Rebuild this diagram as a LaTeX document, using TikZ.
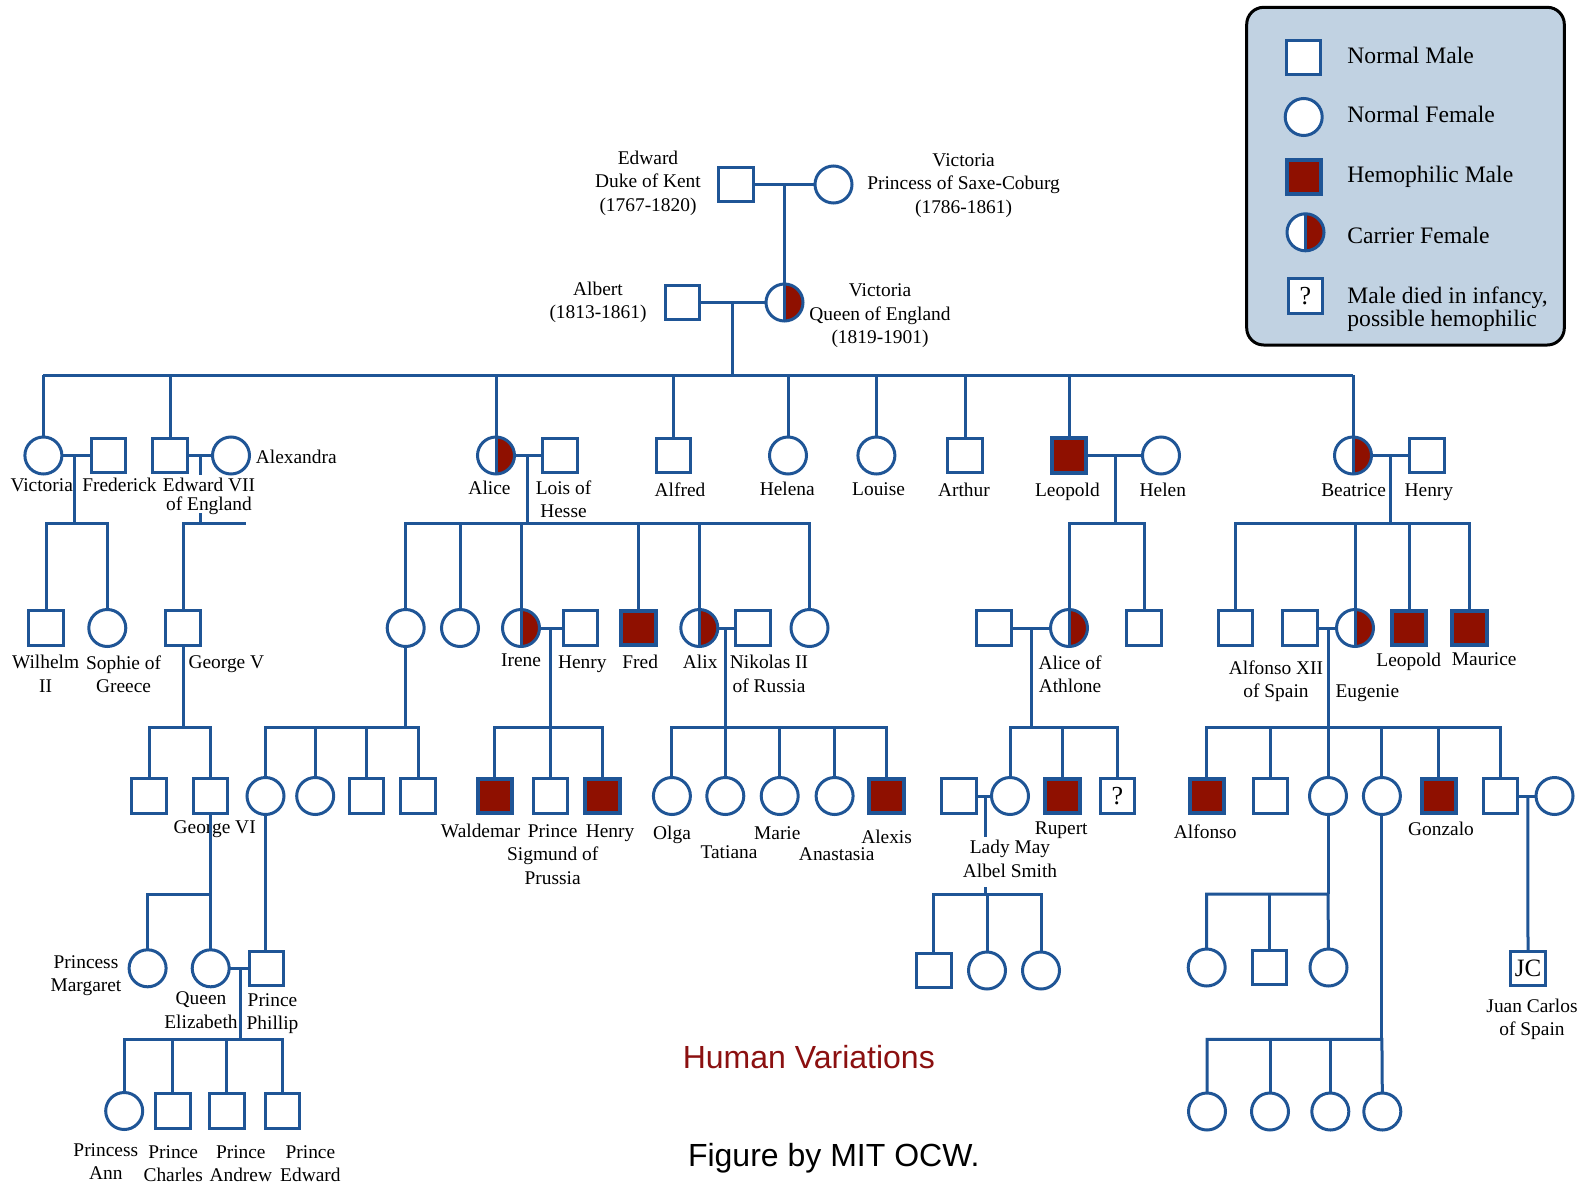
\documentclass[tikz,border=0pt]{standalone}
\usepackage{fontspec}
\setmainfont{Liberation Serif}
\newfontfamily\titlesans{Liberation Sans}
\definecolor{pblue}{HTML}{1F5596}
\definecolor{hemored}{HTML}{8F1000}
\definecolor{legbg}{HTML}{C1D2E2}
\definecolor{titlered}{HTML}{8B1010}
\begin{document}
\begin{tikzpicture}[x=0.5pt,y=-0.5pt,
  ln/.style={draw=pblue,line width=1.5pt},
  person/.style={draw=pblue,line width=1.5pt,inner sep=0pt,outer sep=0pt},
  male/.style={person,rectangle,minimum size=17.2pt,fill=white},
  female/.style={person,circle,minimum size=18.5pt,fill=white},
  hemo/.style={male,fill=hemored,line width=2pt},
  carrier/.style={female,path picture={
      \fill[hemored] (path picture bounding box.north) rectangle (path picture bounding box.south east);
      \draw[pblue,line width=1.5pt] (path picture bounding box.north) -- (path picture bounding box.south);}},
  lab/.style={anchor=north,align=center,inner sep=0pt,font=\fontsize{9.7}{11.7}\selectfont},
  leg/.style={anchor=north west,align=left,inner sep=0pt,font=\fontsize{11.8}{9.8}\selectfont},
  qsym/.style={font=\fontsize{13}{14}\selectfont},
  jcsym/.style={font=\fontsize{12.5}{14}\selectfont}
]
\useasboundingbox (0,0) rectangle (1585,1183);

% ---------- legend ----------
\draw[black,line width=1.5pt,fill=legbg,rounded corners=8.5pt] (1246.7,7.3) rectangle (1564.3,345);
\node[male] (kmale) at (1303.5,57.5) {};
\node[female] (kfem) at (1303.7,117) {};
\node[hemo] (khem) at (1304,176.7) {};
\node[carrier] (kcar) at (1305.5,232.3) {};
\node[male,qsym] (kq) at (1305.5,296) {?};
\node[leg] (tmale) at (1347,46.5) {Normal Male};
\node[leg] (tfem) at (1347,106) {Normal Female};
\node[leg] (themo) at (1347,166) {Hemophilic Male};
\node[leg] (tcar) at (1347,226.5) {Carrier Female};
\node[leg] (tq) at (1347,286.5) {Male died in infancy,\\possible hemophilic};

% ---------- generation 0 ----------
\node[male] (edw) at (736,184.5) {};
\node[female] (vsc) at (833.5,184.5) {};
\node[carrier] (vq) at (784.5,302.5) {};
\node[male] (alb) at (682.5,302.5) {};
\node[lab] (ledw) at (648,150.5) {Edward\\Duke of Kent\\(1767-1820)};
\node[lab] (lvsc) at (963.6,153) {Victoria\\Princess of Saxe-Coburg\\(1786-1861)};
\node[lab] (lalb) at (598,281.5) {Albert\\(1813-1861)};
\node[lab] (lvq) at (880,283.5) {Victoria\\Queen of England\\(1819-1901)};

\coordinate (m0) at (784.5,184.5);
\coordinate (j1) at (732,302.5);
\coordinate (sib1) at (732,375);
\draw[ln] (edw.east) -- (vsc.west);
\draw[ln] (m0) -- (vq.north);
\draw[ln] (alb.east) -- (vq.west);
\draw[ln] (j1) -- (sib1);

% ---------- generation 1 ----------
\node[female] (v1) at (43.4,455.5) {};
\node[male] (fred) at (108.7,455.5) {};
\node[male] (e7) at (170,455.5) {};
\node[female] (alex) at (231,455.5) {};
\node[carrier] (alice) at (496,455.5) {};
\node[male] (lois) at (560,455.5) {};
\node[male] (alfred) at (673.4,455.5) {};
\node[female] (helena) at (788,455.5) {};
\node[female] (louise) at (876.4,455.5) {};
\node[male] (arthur) at (965,455.5) {};
\node[hemo] (leo) at (1069,455.5) {};
\node[female] (helen) at (1161,455.5) {};
\node[carrier] (bea) at (1353,455.5) {};
\node[male] (henry) at (1427,455.5) {};

\draw[ln] (v1.north |- sib1) -- (bea.north |- sib1);
\foreach \c in {v1,e7,alice,alfred,helena,louise,arthur,leo,bea}
  \draw[ln] (\c.north) -- (\c.north |- sib1);

\node[lab] (lv1) at (41.7,478) {Victoria};
\node[lab] (lfred) at (119.5,478) {Frederick};
\node[lab] (le7) at (209,478) {Edward VII\\[-2.2pt]of England};
\node[lab] (lalex) at (296.3,450) {Alexandra};
\node[lab] (lalice) at (489.5,480.5) {Alice};
\node[lab] (llois) at (563.5,480) {Lois of\\Hesse};
\node[lab] (lalfred) at (680,482) {Alfred};
\node[lab] (lhelena) at (787.3,482) {Helena};
\node[lab] (llouise) at (878.6,482) {Louise};
\node[lab] (larthur) at (963.9,482.5) {Arthur};
\node[lab] (lleo) at (1067.4,483) {Leopold};
\node[lab] (lhelen) at (1162.8,483) {Helen};
\node[lab] (lbea) at (1353.6,483) {Beatrice};
\node[lab] (lhenry) at (1428.9,483) {Henry};

% marriages of generation 1
\coordinate (jvf) at (74.7,455.5);  \coordinate (cvf) at (74.7,523);
\coordinate (jea) at (200.4,455.5); \coordinate (cea) at (200.4,523);
\coordinate (jeaa) at (200.4,475);  \coordinate (jeab) at (200.4,513);
\coordinate (eastub) at (245.5,523);
\coordinate (jal) at (527,455.5);   \coordinate (cal) at (527,523);
\coordinate (jlh) at (1115.5,455.5); \coordinate (clh) at (1115.5,523);
\coordinate (jbh) at (1390,455.5);  \coordinate (cbh) at (1390,523);
\draw[ln] (v1.east) -- (fred.west);
\draw[ln] (e7.east) -- (alex.west);
\draw[ln] (alice.east) -- (lois.west);
\draw[ln] (leo.east) -- (helen.west);
\draw[ln] (bea.east) -- (henry.west);
\draw[ln] (jvf) -- (cvf);
\draw[ln] (jea) -- (jeaa);
\draw[ln] (jeab) -- (cea);
\draw[ln] (jal) -- (cal);
\draw[ln] (jlh) -- (clh);
\draw[ln] (jbh) -- (cbh);

% ---------- generation 2 ----------
\node[male] (wil) at (46,628) {};
\node[female] (soph) at (107.3,628) {};
\node[male] (geo5) at (183,628) {};
\node[female] (a1) at (405.7,628) {};
\node[female] (a2) at (460,628) {};
\node[carrier] (irene) at (521,628) {};
\node[male] (henryb) at (580.6,628) {};
\node[hemo] (fredh) at (638.4,628) {};
\node[carrier] (alix) at (699.3,628) {};
\node[male] (nik) at (753,628) {};
\node[female] (a7) at (809.5,628) {};
\node[male] (athm) at (993.8,628) {};
\node[carrier] (aath) at (1069,628) {};
\node[male] (lsq) at (1144,628) {};
\node[male] (bsq) at (1235.3,628) {};
\node[male] (alf12) at (1300,628) {};
\node[carrier] (eug) at (1355,628) {};
\node[hemo] (leob) at (1409,628) {};
\node[hemo] (maur) at (1469.6,628) {};

\draw[ln] (wil.north) |- (cvf) -| (soph.north);
\draw[ln] (geo5.north) |- (cea) -- (eastub);
\draw[ln] (a1.north) |- (cal) -| (a7.north);
\foreach \c in {a2,irene,fredh,alix} \draw[ln] (\c.north) -- (\c.north |- cal);
\draw[ln] (aath.north) |- (clh) -| (lsq.north);
\draw[ln] (bsq.north) |- (cbh) -| (maur.north);
\foreach \c in {eug,leob} \draw[ln] (\c.north) -- (\c.north |- cbh);

\node[lab] (lwil) at (45.6,655) {Wilhelm\\II};
\node[lab] (lsoph) at (123.6,655) {Sophie of\\Greece};
\node[lab] (lgeo5) at (226.4,655) {George V};
\node[lab] (lirene) at (521,653.3) {Irene};
\node[lab] (lhenryb) at (582.3,655) {Henry};
\node[lab] (lfredh) at (640.2,655) {Fred};
\node[lab] (lalix) at (700.2,655) {Alix};
\node[lab] (lnik) at (769,655) {Nikolas II\\of Russia};
\node[lab] (laath) at (1070,655) {Alice of\\Athlone};
\node[lab] (lalf12) at (1276,660) {Alfonso XII\\of Spain};
\node[lab] (leug) at (1367.4,684) {Eugenie};
\node[lab] (lleob) at (1408.8,652.7) {Leopold};
\node[lab] (lmaur) at (1484.2,652.7) {Maurice};

% marriages and descents of generation 2
\coordinate (jih) at (550.5,628);  \coordinate (cih) at (550.5,727);
\coordinate (jan) at (725.1,628);  \coordinate (can) at (725.1,727);
\coordinate (jaa) at (1031,628);   \coordinate (caa) at (1031,727);
\coordinate (jae) at (1328,628);   \coordinate (cae) at (1328,727);
\coordinate (cg5) at (183,727);
\coordinate (ca1) at (405.7,727);
\draw[ln] (irene.east) -- (henryb.west);
\draw[ln] (alix.east) -- (nik.west);
\draw[ln] (athm.east) -- (aath.west);
\draw[ln] (alf12.east) -- (eug.west);
\draw[ln] (jih) -- (cih);
\draw[ln] (jan) -- (can);
\draw[ln] (jaa) -- (caa);
\draw[ln] (jae) -- (cae);
\draw[ln] (geo5.south) -- (cg5);
\draw[ln] (a1.south) -- (ca1);

% ---------- generation 3 ----------
\node[male] (g3a) at (149,796) {};
\node[male] (geo6) at (210.7,796) {};
\node[female] (aob) at (265.5,796) {};
\node[female] (g3c) at (315.2,796) {};
\node[male] (g3d) at (366.4,796) {};
\node[male] (g3e) at (418,796) {};
\node[hemo] (wald) at (494.7,796) {};
\node[male] (sig) at (550.5,796) {};
\node[hemo] (henh) at (602.5,796) {};
\node[female] (olga) at (671.9,796) {};
\node[female] (tat) at (725.3,796) {};
\node[female] (marie) at (779.7,796) {};
\node[female] (anas) at (834.6,796) {};
\node[hemo] (alexis) at (886.6,796) {};
\node[male] (lmm) at (958.8,796) {};
\node[female] (lmay) at (1010,796) {};
\node[hemo] (rup) at (1062.3,796) {};
\node[male,qsym] (qm) at (1117.3,796) {?};
\node[hemo] (alfo) at (1206.9,796) {};
\node[male] (s2) at (1270.5,796) {};
\node[female] (s3) at (1328,796) {};
\node[female] (s4) at (1381.9,796) {};
\node[hemo] (gonz) at (1438.9,796) {};
\node[male] (s6) at (1500.7,796) {};
\node[female] (s7) at (1554.5,796) {};

\draw[ln] (g3a.north) |- (cg5) -| (geo6.north);
\draw[ln] (aob.north) |- (ca1) -| (g3e.north);
\foreach \c in {g3c,g3d} \draw[ln] (\c.north) -- (\c.north |- ca1);
\draw[ln] (wald.north) |- (cih) -| (henh.north);
\draw[ln] (sig.north) -- (sig.north |- cih);
\draw[ln] (olga.north) |- (can) -| (alexis.north);
\foreach \c in {tat,marie,anas} \draw[ln] (\c.north) -- (\c.north |- can);
\draw[ln] (lmay.north) |- (caa) -| (qm.north);
\draw[ln] (rup.north) -- (rup.north |- caa);
\draw[ln] (alfo.north) |- (cae) -| (s6.north);
\foreach \c in {s2,s3,s4,gonz} \draw[ln] (\c.north) -- (\c.north |- cae);

\node[lab] (lgeo6) at (214.7,820) {George VI};
\node[lab] (lwald) at (480.6,824) {Waldemar};
\node[lab] (lsig) at (552.7,824) {Prince\\Sigmund of\\Prussia};
\node[lab] (lhenh) at (610,824) {Henry};
\node[lab] (lolga) at (672,826) {Olga};
\node[lab] (ltat) at (729,845.7) {Tatiana};
\node[lab] (lmarie) at (777.3,826) {Marie};
\node[lab] (lanas) at (836.7,847.3) {Anastasia};
\node[lab] (lalexis) at (886.6,829.3) {Alexis};
\node[lab] (llmay) at (1010,840) {Lady May\\Albel Smith};
\node[lab] (lrup) at (1061.2,821.7) {Rupert};
\node[lab] (lalfo) at (1205.2,824) {Alfonso};
\node[lab] (lgonz) at (1441,821.7) {Gonzalo};

% marriages and descents of generation 3
\coordinate (jlm) at (985,796);
\coordinate (jlma) at (985,837);
\coordinate (jlmb) at (985,887);
\coordinate (clm) at (985,894);
\coordinate (jss) at (1527.8,796);
\coordinate (cg6) at (210.7,894);
\coordinate (cs3) at (1328,894);
\coordinate (cs4) at (1381.9,1039.3);
\draw[ln] (lmm.east) -- (lmay.west);
\draw[ln] (jlm) -- (jlma);
\draw[ln] (jlmb) -- (clm);
\draw[ln] (s6.east) -- (s7.west);
\draw[ln] (geo6.south) -- (cg6);
\draw[ln] (s3.south) -- (cs3);
\draw[ln] (s4.south) -- (cs4);

% ---------- generation 4 ----------
\node[female] (marg) at (147.6,968.3) {};
\node[female] (qe) at (210.7,968.3) {};
\node[male] (phil) at (266.4,968.3) {};
\node[male] (lm1) at (933.9,970.5) {};
\node[female] (lm2) at (987,970.5) {};
\node[female] (lm3) at (1041,970.5) {};
\node[female] (sp1) at (1206.7,967.5) {};
\node[male] (sp2) at (1269.4,967.5) {};
\node[female] (sp3) at (1328.5,967.5) {};
\node[male,jcsym] (jc) at (1528,968.3) {JC};

\draw[ln] (marg.north) |- (cg6) -- (qe.north);
\draw[ln] (aob.south) -- (aob.south |- phil.north);
\draw[ln] (lm1.north) |- (clm) -| (lm3.north);
\draw[ln] (lm2.north) -- (lm2.north |- clm);
\draw[ln] (sp1.north) |- (cs3) -- (sp3.north);
\draw[ln] (sp2.north) -- (sp2.north |- cs3);
\draw[ln] (jss) -- (jc.north);

\node[lab] (lmarg) at (86,955) {Princess\\Margaret};
\node[lab] (lqe) at (201,991.7) {Queen\\Elizabeth};
\node[lab] (lphil) at (272.5,993.3) {Prince\\Phillip};
\node[lab] (ljc) at (1532,998.3) {Juan Carlos\\of Spain};

% marriage of generation 4
\coordinate (jqp) at (240,968.3);
\coordinate (cqp) at (240,1039.3);
\draw[ln] (qe.east) -- (phil.west);
\draw[ln] (jqp) -- (cqp);

% ---------- generation 5 ----------
\node[female] (ann) at (124.2,1111) {};
\node[male] (charles) at (172.9,1111) {};
\node[male] (andrew) at (226.9,1111) {};
\node[male] (edwp) at (282.7,1111) {};
\node[female] (sp4) at (1207,1111.5) {};
\node[female] (sp5) at (1270,1111.5) {};
\node[female] (sp6) at (1330.3,1111.5) {};
\node[female] (sp7) at (1382.3,1111.5) {};

\draw[ln] (ann.north) |- (cqp) -| (edwp.north);
\foreach \c in {charles,andrew} \draw[ln] (\c.north) -- (\c.north |- cqp);
\draw[ln] (sp4.north) |- (cs4) -- (sp7.north);
\foreach \c in {sp5,sp6} \draw[ln] (\c.north) -- (\c.north |- cs4);

\node[lab] (lann) at (105.8,1143.3) {Princess\\Ann};
\node[lab] (lcharles) at (173.2,1145) {Prince\\Charles};
\node[lab] (landrew) at (240.8,1145) {Prince\\Andrew};
\node[lab] (ledwp) at (310.4,1145) {Prince\\Edward};

% ---------- titles ----------
\node[anchor=base,inner sep=0pt,text=titlered,font=\titlesans\fontsize{16}{19}\selectfont] (title) at (808.8,1068.3) {Human Variations};
\node[anchor=base,inner sep=0pt,font=\titlesans\fontsize{16}{19}\selectfont] (credit) at (833.8,1166.7) {Figure by MIT OCW.};
\end{tikzpicture}
\end{document}
